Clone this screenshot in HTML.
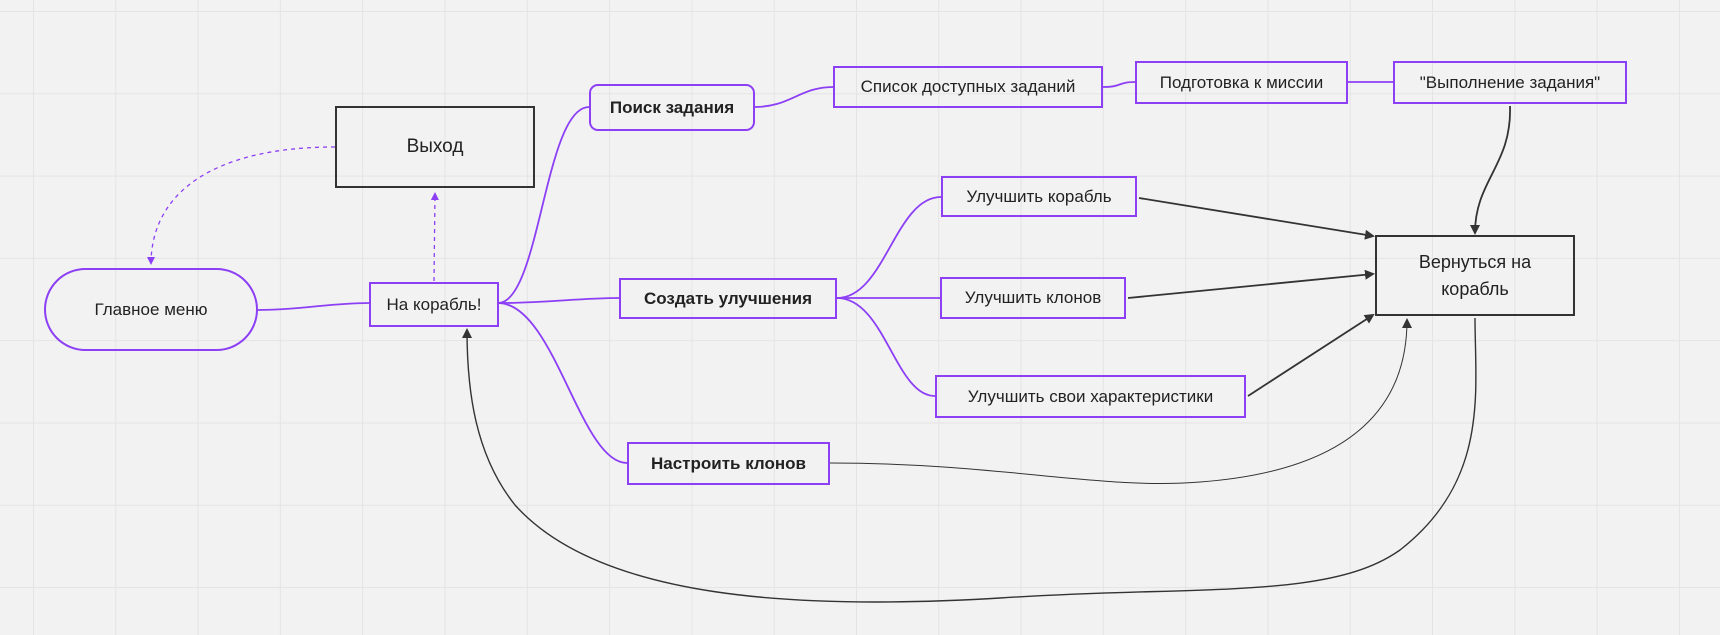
<!DOCTYPE html>
<html><head><meta charset="utf-8"><style>
html,body{margin:0;padding:0}
body{width:1720px;height:635px;position:relative;overflow:hidden;background:#f2f2f2;
background-image:linear-gradient(to right,#e4e4e4 1px,transparent 1px),linear-gradient(to bottom,#e4e4e4 1px,transparent 1px);
background-size:82.3px 82.3px;background-position:33px 11px;font-family:"Liberation Sans","DejaVu Sans",sans-serif;color:#222}
.n{position:absolute;box-sizing:border-box;border:2px solid #8c3ff5;display:flex;align-items:center;justify-content:center;text-align:center;font-size:17px;background:transparent}
.b{font-weight:bold}
.k{border-color:#333}
svg{position:absolute;left:0;top:0}
</style></head><body>
<svg width="1720" height="635" viewBox="0 0 1720 635">
<defs>
<marker id="ab" markerWidth="10" markerHeight="10" refX="8" refY="5" orient="auto" markerUnits="userSpaceOnUse"><path d="M0,0 L10,5 L0,10 z" fill="#333"/></marker>
<marker id="ap" markerWidth="8" markerHeight="8" refX="7" refY="4" orient="auto" markerUnits="userSpaceOnUse"><path d="M0,0 L8,4 L0,8 z" fill="#8c3ff5"/></marker>
</defs>
<g fill="none" stroke="#8c3ff5" stroke-width="1.8">
<path d="M258,310 C300,310 330,303 369,303"/>
<path d="M499,303 C540,300 545,107 589,107"/>
<path d="M499,303 C545,303 580,298 619,298"/>
<path d="M499,303 C555,305 580,463 627,463"/>
<path d="M755,107 C790,107 800,87 833,87"/>
<path d="M1103,87 C1122,87 1118,82 1135,82"/>
<path d="M1348,82 L1393,82"/>
<path d="M837,298 C885,298 895,197 941,197"/>
<path d="M837,298 L940,298"/>
<path d="M837,298 C885,298 895,396 935,396"/>
<path d="M434,281 L435,193" stroke-dasharray="4,4" stroke-width="1.3" marker-end="url(#ap)"/>
<path d="M335,147 C210,147 151,195 151,264" stroke-dasharray="4,4" stroke-width="1.3" marker-end="url(#ap)"/>
</g>
<g fill="none" stroke="#333" stroke-width="1.8">
<path d="M1139,198 L1373,236" marker-end="url(#ab)"/>
<path d="M1128,298 L1373,274" marker-end="url(#ab)"/>
<path d="M1248,396 L1373,315" marker-end="url(#ab)"/>
<path d="M1510,106 C1512,165 1475,180 1475,233" marker-end="url(#ab)"/>
<path d="M830,463 C1000,463 1100,490 1200,482 C1360,470 1407,400 1407,320" stroke-width="1" marker-end="url(#ab)"/>
<path d="M1475,318 C1475,390 1490,480 1400,550 C1330,600 1200,585 1000,598 C800,610 600,600 515,505 C475,455 467,390 467,330" stroke-width="1.4" marker-end="url(#ab)"/>
</g>
</svg>
<div class="n" style="left:44px;top:268px;width:214px;height:83px;border-radius:42px">Главное меню</div>
<div class="n k" style="left:335px;top:106px;width:200px;height:82px;font-size:19px">Выход</div>
<div class="n" style="left:369px;top:282px;width:130px;height:45px">На корабль!</div>
<div class="n b" style="left:589px;top:84px;width:166px;height:47px;border-radius:9px">Поиск задания</div>
<div class="n" style="left:833px;top:66px;width:270px;height:42px">Список доступных заданий</div>
<div class="n" style="left:1135px;top:61px;width:213px;height:43px">Подготовка к миссии</div>
<div class="n" style="left:1393px;top:61px;width:234px;height:43px">"Выполнение задания"</div>
<div class="n b" style="left:619px;top:278px;width:218px;height:41px">Создать улучшения</div>
<div class="n" style="left:941px;top:176px;width:196px;height:41px">Улучшить корабль</div>
<div class="n" style="left:940px;top:277px;width:186px;height:42px">Улучшить клонов</div>
<div class="n" style="left:935px;top:375px;width:311px;height:43px">Улучшить свои характеристики</div>
<div class="n b" style="left:627px;top:442px;width:203px;height:43px">Настроить клонов</div>
<div class="n k" style="left:1375px;top:235px;width:200px;height:81px;font-size:18px;line-height:1.5">Вернуться на<br>корабль</div>
</body></html>
